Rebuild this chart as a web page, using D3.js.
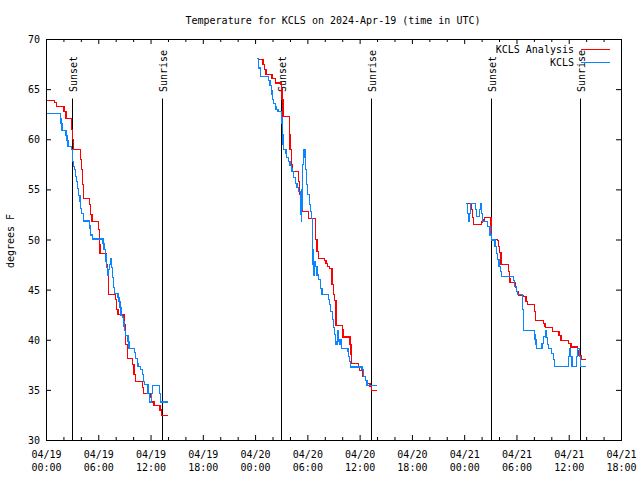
<!DOCTYPE html>
<html><head><meta charset="utf-8">
<script src="https://cdn.jsdelivr.net/npm/d3@7/dist/d3.min.js"></script>
<style>
body{margin:0;background:#fff;}
text{font-family:"DejaVu Sans Mono","Liberation Mono",monospace;font-size:10px;fill:#000;}
</style></head>
<body><svg id="c" width="640" height="480"></svg>
<script>
// ---- data: [hour since 04/19 00:00 UTC, degrees F]
const analysisSeg1=[[0.15,63.9],[1.0,63.65],[1.22,63.3],[2.07,62.75],[2.3,62.1],[2.95,61.0],[3.05,60.0],[3.12,58.95],[3.98,58.0],[4.08,57.0],[4.18,55.5],[4.29,54.1],[4.97,53.5],[5.1,52.5],[5.28,51.8],[6.05,51.0],[6.12,49.5],[6.2,48.6],[6.95,47.5],[7.05,46.6],[7.2,44.5],[8.0,44.0],[8.1,43.0],[8.26,42.55],[8.95,41.5],[9.1,39.5],[9.34,38.1],[9.91,37.5],[10.1,36.5],[10.29,35.8],[11.06,35.2],[11.17,34.6],[11.94,34.2],[12.1,33.8],[12.4,33.45],[13.09,33.0],[13.24,32.45],[14.0,32.45]];
const analysisSeg2=[[24.33,67.95],[24.91,67.45],[25.12,66.95],[25.25,66.45],[25.94,66.05],[26.33,65.62],[27.03,65.0],[27.1,64.0],[27.2,62.28],[27.93,60.5],[28.0,59.0],[28.16,57.45],[28.31,56.78],[29.0,55.8],[29.1,54.5],[29.19,53.78],[29.39,52.78],[30.15,52.12],[30.92,50.0],[31.11,48.78],[31.3,48.12],[31.99,47.9],[32.14,47.62],[32.3,47.3],[32.5,47.12],[32.83,45.5],[33.0,44.5],[33.14,43.95],[33.29,41.45],[34.0,41.0],[34.1,40.28],[34.9,39.5],[35.0,38.5],[35.1,37.62],[35.89,37.3],[35.97,36.95],[36.3,36.3],[36.65,35.95],[36.84,35.62],[37.2,35.3],[37.34,34.95],[37.99,34.95]];
const analysisSeg3=[[48.29,53.62],[48.86,53.0],[48.94,52.2],[49.05,51.52],[50.01,51.75],[50.08,51.95],[50.31,52.22],[51.08,51.0],[51.16,50.0],[51.84,49.9],[51.92,49.3],[52.05,48.7],[52.23,47.5],[53.07,46.8],[53.18,46.1],[53.26,45.72],[53.91,45.2],[54.05,44.8],[54.22,44.45],[54.79,44.3],[55.1,43.8],[55.29,43.52],[56.06,42.8],[56.21,41.95],[57.09,41.6],[57.28,41.3],[57.36,41.22],[58.12,40.85],[58.89,40.4],[59.12,39.95],[59.96,39.6],[60.26,39.28],[61.03,38.9],[61.18,38.4],[61.41,38.02],[61.95,38.02]];
const obsSeg1=[[0.15,62.6],[1.64,62.1],[1.72,61.6],[1.84,60.85],[2.3,60.4],[2.4,59.9],[2.52,59.3],[2.91,58.95],[3.06,57.8],[3.15,57.3],[3.29,56.95],[3.4,56.3],[3.52,55.78],[3.6,55.1],[3.75,54.4],[3.9,53.78],[3.98,53.1],[4.1,52.6],[4.29,51.85],[4.97,51.4],[5.05,51.1],[5.13,50.45],[5.3,50.05],[6.55,49.6],[6.66,49.0],[6.8,48.5],[6.89,47.8],[6.95,47.2],[7.04,46.45],[7.15,47.0],[7.27,47.5],[7.4,48.1],[7.54,47.2],[7.61,46.2],[7.75,45.2],[7.88,44.6],[8.26,44.2],[8.38,43.8],[8.5,43.2],[8.6,42.45],[8.76,42.2],[8.88,41.8],[8.95,41.3],[9.03,40.95],[9.15,40.45],[9.41,39.8],[9.53,39.1],[10.18,38.7],[10.29,38.1],[10.48,37.6],[10.56,37.3],[10.87,37.0],[11.06,36.5],[11.17,35.8],[11.3,35.5],[11.7,34.6],[11.85,33.8],[12.1,34.6],[12.2,35.45],[13.0,34.6],[13.15,33.8],[14.0,33.8]];
const obsSeg2=[[24.22,68.05],[24.41,67.1],[24.6,66.28],[25.56,65.9],[25.7,65.4],[25.85,64.9],[25.94,64.45],[26.02,64.0],[26.15,63.6],[26.33,63.3],[26.4,62.95],[26.63,62.78],[27.01,62.2],[27.09,61.6],[27.15,60.5],[27.2,59.5],[27.28,58.95],[27.55,58.6],[27.63,58.2],[27.85,57.8],[28.0,57.4],[28.16,57.1],[28.24,56.78],[28.43,56.2],[28.6,55.6],[28.81,55.2],[29.0,54.8],[29.19,53.5],[29.25,52.5],[29.3,51.78],[29.35,53.0],[29.39,55.0],[29.46,57.5],[29.55,58.95],[29.62,58.2],[29.7,58.95],[29.77,57.0],[29.9,55.5],[30.05,54.5],[30.2,53.5],[30.34,52.78],[30.45,52.1],[30.55,50.5],[30.6,49.0],[30.65,47.5],[30.72,46.45],[30.78,47.2],[30.84,47.8],[30.95,47.3],[31.11,46.45],[31.3,46.0],[31.49,45.1],[31.68,44.5],[32.45,44.0],[32.53,43.5],[32.7,42.8],[32.85,42.0],[33.02,41.2],[33.14,40.5],[33.25,39.5],[33.4,39.8],[33.52,40.95],[33.6,40.0],[33.67,39.5],[33.79,40.0],[33.9,39.12],[34.67,38.8],[34.75,38.3],[34.85,37.8],[34.94,37.28],[36.27,37.0],[36.46,36.3],[36.65,35.9],[36.84,35.45],[37.99,35.45]];
const obsSeg3=[[48.21,53.62],[48.4,52.6],[48.48,51.78],[48.6,52.6],[48.7,53.62],[49.3,53.0],[49.4,52.28],[49.6,52.28],[49.75,53.0],[49.85,53.62],[50.0,52.6],[50.1,51.78],[50.66,51.28],[50.96,50.45],[51.1,49.95],[51.54,49.3],[51.7,48.6],[51.81,48.0],[52.0,47.3],[52.2,46.8],[52.31,46.28],[53.66,45.95],[53.8,45.3],[54.0,44.8],[54.12,44.52],[54.73,43.0],[54.85,40.95],[56.03,40.5],[56.14,40.0],[56.25,39.5],[56.33,39.12],[56.94,39.6],[57.1,40.3],[57.3,40.95],[57.4,40.2],[57.55,39.5],[57.66,39.12],[58.06,38.6],[58.25,38.0],[58.37,37.3],[59.95,38.3],[60.05,39.1],[60.2,38.3],[60.37,37.3],[60.9,38.3],[61.0,39.1],[61.2,38.3],[61.33,37.3],[61.95,37.3]];
const eventNames=["Sunset","Sunrise","Sunset","Sunrise","Sunset","Sunrise"];
const eventHours=[3.0,13.33,27.0,37.33,51.1,61.3];
const xTickHours=[0,6,12,18,24,30,36,42,48,54,60,66];
const xTickDates=["04/19","04/19","04/19","04/19","04/20","04/20","04/20","04/20","04/21","04/21","04/21","04/21"];
const xTickTimes=["00:00","06:00","12:00","18:00","00:00","06:00","12:00","18:00","00:00","06:00","12:00","18:00"];
const xMinorHours=d3.range(0,67,2).filter(h=>h%6!==0);
const yTicks=[30,35,40,45,50,55,60,65,70];
const seriesNames=["KCLS Analysis","KCLS"];
const seriesColors=["#ff0000","#0a84ff"];
const titleText="Temperature for KCLS on 2024-Apr-19 (time in UTC)";
const yLabel="degrees F";

const svg=d3.select("#c");
const L=46,R=621,T=39,B=440;
const x=d3.scaleLinear().domain([0,66]).range([L,R]);
const y=d3.scaleLinear().domain([30,70]).range([B,T]);

// ticks (inward, mirrored)
function tickAxis(axis,tx,ty){
  const g=svg.append("g").attr("transform",`translate(${tx},${ty})`).call(axis);
  g.select(".domain").remove(); g.selectAll("text").remove();
  g.selectAll("line").attr("stroke","#000");
}
tickAxis(d3.axisBottom(x).tickValues(xTickHours).tickSize(-5),0,B);
tickAxis(d3.axisTop(x).tickValues(xTickHours).tickSize(-5),0,T);
tickAxis(d3.axisBottom(x).tickValues(xMinorHours).tickSize(-3),0,B);
tickAxis(d3.axisTop(x).tickValues(xMinorHours).tickSize(-3),0,T);
tickAxis(d3.axisLeft(y).tickValues(yTicks).tickSize(-5),L,0);
tickAxis(d3.axisRight(y).tickValues(yTicks).tickSize(-5),R,0);

svg.append("rect").attr("x",L+0.5).attr("y",T+0.5).attr("width",R-L).attr("height",B-T)
  .attr("fill","none").attr("stroke","#000").attr("stroke-width",1);

// tick labels
svg.append("g").selectAll("text").data(yTicks).join("text")
  .attr("x",L-6).attr("y",d=>y(d)+0.5).attr("dy","0.36em").attr("text-anchor","end").text(d=>d);
const xl=svg.append("g").selectAll("text").data(xTickHours).join("text")
  .attr("text-anchor","middle").attr("x",(d)=>x(d)+0.5);
xl.append("tspan").attr("x",d=>x(d)+0.5).attr("y",458).text((d,i)=>xTickDates[i]);
xl.append("tspan").attr("x",d=>x(d)+0.5).attr("y",470.5).text((d,i)=>xTickTimes[i]);

// title and y label
svg.append("text").attr("x",333).attr("y",23.5).attr("text-anchor","middle").text(titleText);
svg.append("text").attr("transform","translate(14,241) rotate(-90)").attr("text-anchor","middle").text(yLabel);

// sunrise/sunset markers
const ev=svg.append("g");
eventHours.forEach((h,i)=>{
  const px=Math.floor(x(h))+0.5;
  ev.append("line").attr("x1",px).attr("x2",px).attr("y1",98.5).attr("y2",B)
    .attr("stroke","#000").attr("stroke-width",1);
  ev.append("text").attr("transform",`translate(${px+4},92) rotate(-90)`).attr("text-anchor","start").text(eventNames[i]);
});

// series
const line=d3.line().x(d=>x(d[0])).y(d=>y(d[1])).curve(d3.curveStepAfter);
const series=[[analysisSeg1,analysisSeg2,analysisSeg3],[obsSeg1,obsSeg2,obsSeg3]];
series.forEach((segs,si)=>{
  segs.forEach(seg=>{
    svg.append("path").attr("d",line(seg)).attr("fill","none")
      .attr("stroke",seriesColors[si]).attr("stroke-width",1.2).attr("shape-rendering","crispEdges");
  });
});

// legend
const legY=[49.5,62.5];
seriesNames.forEach((n,i)=>{
  svg.append("text").attr("x",574).attr("y",legY[i]).attr("dy","0.36em").attr("text-anchor","end").text(n);
  svg.append("line").attr("x1",581).attr("x2",610).attr("y1",legY[i]).attr("y2",legY[i])
    .attr("stroke",seriesColors[i]).attr("stroke-width",1);
});
</script></body></html>
